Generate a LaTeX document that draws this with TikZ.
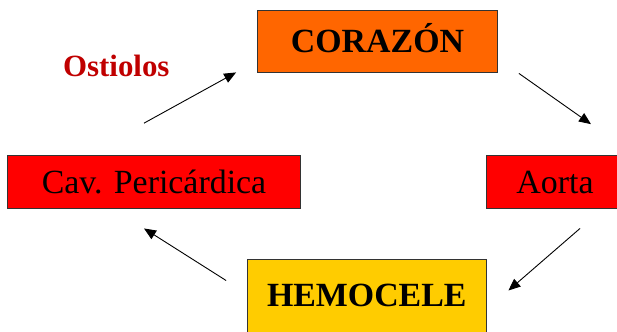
\documentclass[tikz,border=0pt]{standalone}
\usepackage{fontspec}
\setmainfont{Liberation Serif}
\usetikzlibrary{arrows.meta}

\definecolor{orangebox}{HTML}{FF6600}
\definecolor{redbox}{HTML}{FF0000}
\definecolor{yellowbox}{HTML}{FFCC00}
\definecolor{darkred}{HTML}{C00000}

\tikzset{
  organ/.style={draw=black!80, line width=0.8bp, inner sep=0pt,
    text height=22.5bp, text depth=0pt,
    font=\fontsize{34}{40}\selectfont},
  bigorgan/.style={organ, font=\fontsize{34}{40}\selectfont\bfseries},
  flow/.style={-{Triangle[length=12bp,width=10bp]}, line width=0.9bp},
}

\begin{document}
\begin{tikzpicture}[x=1bp,y=-1bp]

\useasboundingbox (0,0) rectangle (617,331);

\coordinate (C) at (377.5,41);
\coordinate (P) at (154,181.8);
\coordinate (A) at (555,181.8);
\coordinate (H) at (366.75,295.5);
\coordinate (O) at (116.3,76.7);

\node [bigorgan, fill=orangebox, minimum width=240bp, minimum height=62bp] (corazon) at (C) {CORAZÓN};
\node [organ, fill=redbox, minimum width=293bp, minimum height=52.5bp] (cav) at (P) {Cav. Pericárdica};
\node [organ, fill=redbox, minimum width=138bp, minimum height=52.5bp] (aorta) at (A) {Aorta};
\node [bigorgan, fill=yellowbox, minimum width=238.5bp, minimum height=73bp] (hemocele) at (H) {HEMOCELE};

\node [anchor=base, text=darkred, font=\fontsize{31}{36}\selectfont\bfseries] (ostiolos) at (O) {Ostiolos};

\draw [flow] ([xshift=-10bp,yshift=32bp]cav.north) -- ([xshift=-21bp]corazon.south west);
\draw [flow] ([xshift=21bp,yshift=-1bp]corazon.south east) -- ([xshift=36bp,yshift=31bp]aorta.north);
\draw [flow] ([xshift=25bp,yshift=-20bp]aorta.south) -- ([xshift=22bp,yshift=5bp]hemocele.east);
\draw [flow] ([xshift=-21bp,yshift=15bp]hemocele.west) -- ([xshift=-10bp,yshift=-20bp]cav.south);

\end{tikzpicture}
\end{document}
